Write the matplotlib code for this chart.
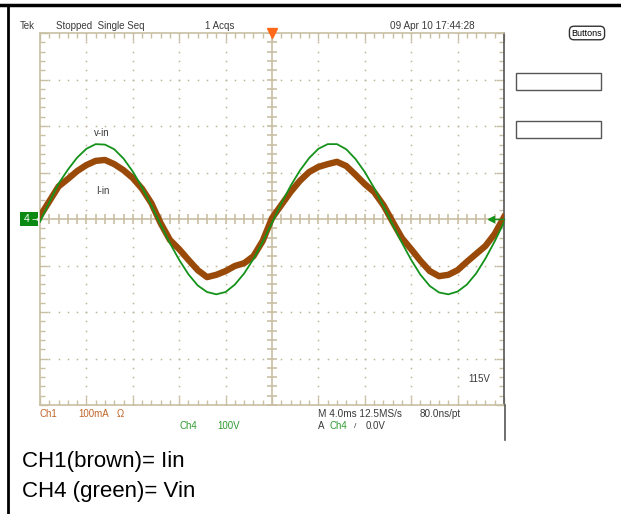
import matplotlib.pyplot as plt
from matplotlib.patches import Rectangle
from matplotlib.lines import Line2D

W, H = 621, 514

# time samples (ms), 4 ms/div over 10 divisions
t_ms = [0.0, 0.8, 1.6, 2.4, 3.2, 4.0, 4.8, 5.6, 6.4, 7.2,
        8.0, 8.8, 9.6, 10.4, 11.2, 12.0, 12.8, 13.6, 14.4, 15.2,
        16.0, 16.8, 17.6, 18.4, 19.2, 20.0, 20.8, 21.6, 22.4, 23.2,
        24.0, 24.8, 25.6, 26.4, 27.2, 28.0, 28.8, 29.6, 30.4, 31.2,
        32.0, 32.8, 33.6, 34.4, 35.2, 36.0, 36.8, 37.6, 38.4, 39.2, 40.0]

# CH4 input voltage (V), 100 V/div
v_in = [-6, 36, 76, 106, 132, 151, 161, 160, 150, 130,
        102, 68, 29, -12, -52, -88, -119, -143, -157, -162,
        -157, -141, -117, -86, -49, -8, 33, 71, 104, 131,
        151, 161, 161, 150, 129, 101, 67, 28, -12, -51,
        -88, -120, -144, -158, -162, -156, -141, -117, -85, -48, -7]

# CH1 input current (mA), 100 mA/div
i_in = [6, 38, 70, 86, 103, 116, 125, 127, 118, 105,
        88, 65, 34, -9, -45, -65, -88, -110, -125, -120,
        -112, -101, -95, -80, -47, 2, 30, 58, 82, 101,
        112, 118, 123, 114, 95, 75, 58, 30, -6, -41,
        -65, -90, -112, -123, -120, -110, -92, -75, -58, -32, 4]

v_per_div = 100
ma_per_div = 100

tan = '#c9bfa3'
dotc = '#bdb49c'
brown = '#9a4a08'
green = '#14921a'
txt = '#3a3a3a'
font = 'Liberation Sans'


def fx(px):
    return px / W


def fy(py):
    return 1 - py / H


fig = plt.figure(figsize=(W / 100, H / 100), dpi=100)
fig.patch.set_facecolor('white')

# outer page frame
fig.add_artist(Line2D([0, 1], [fy(5), fy(5)], color='black', lw=2.5))
fig.add_artist(Line2D([fx(7.5), fx(7.5)], [0, fy(5)], color='black', lw=2))
fig.add_artist(Line2D([fx(504.5), fx(504.5)], [fy(405), fy(440)], color='#555555', lw=1.2))

ax = fig.add_axes([fx(40), fy(405), (504 - 40) / W, (405 - 33) / H])
ax.set_xlim(0, 40)
ax.set_ylim(-4, 4)

major_x = [4 * k for k in range(11)]
minor_x = [0.8 * k for k in range(51)]
major_y = [k - 4 for k in range(9)]
minor_y = [0.2 * k - 4 for k in range(41)]

ax.set_xticks(major_x)
ax.set_xticks(minor_x, minor=True)
ax.set_yticks(major_y)
ax.set_yticks(minor_y, minor=True)
ax.tick_params(which='both', direction='in', top=True, right=True,
               labelbottom=False, labelleft=False, color=tan, width=1)
ax.tick_params(which='major', length=6)
ax.tick_params(which='minor', length=3.5)
for s in ax.spines.values():
    s.set_color(tan)
    s.set_linewidth(1.2)
ax.spines['right'].set_color('#555555')

# dotted graticule
for xv in major_x[1:-1]:
    if xv != 20:
        ax.plot([xv] * len(minor_y), minor_y, ls='none', marker='s', ms=1.1,
                mew=0, color=dotc, zorder=1)
for yv in major_y[1:-1]:
    if yv != 0:
        ax.plot(minor_x, [yv] * len(minor_x), ls='none', marker='s', ms=1.1,
                mew=0, color=dotc, zorder=1)

# centre cross with tick marks
ax.axhline(0, color=tan, lw=1.2, zorder=1)
ax.axvline(20, color=tan, lw=1.2, zorder=1)
ax.plot(minor_x, [0] * len(minor_x), ls='none', marker='|', ms=7, mew=1.2, color=tan, zorder=1)
ax.plot([20] * len(minor_y), minor_y, ls='none', marker='_', ms=7, mew=1.2, color=tan, zorder=1)

# waveforms
ax.plot(t_ms, [i / ma_per_div for i in i_in], color=brown, lw=4.6,
        solid_joinstyle='round', zorder=3)
ax.plot(t_ms, [v / v_per_div for v in v_in], color=green, lw=1.3, zorder=4)

ax.text(5.3, 1.85, 'v-in', fontsize=7, family=font, color=txt, ha='center', va='center')
ax.text(5.4, 0.6, 'I-in', fontsize=7, family=font, color=txt, ha='center', va='center')

# trigger markers
ax.plot([20], [4], marker='v', color='#ff6a1a', ms=7, clip_on=False, zorder=5)
ax.plot([38.9, 40], [0, 0], color=green, lw=1, clip_on=False, zorder=5)
ax.plot([38.9], [0], marker='<', color=green, ms=5, clip_on=False, zorder=5)

# channel 4 ground marker
fig.add_artist(Rectangle((fx(20), fy(226)), (38 - 20) / W, 14 / H,
                         facecolor='#0a8a12', edgecolor='none'))
fig.text(fx(27), fy(219), '4', fontsize=7.5, family=font, color='white',
         ha='center', va='center')
fig.text(fx(35), fy(219), '\u2192', fontsize=6, family='DejaVu Sans', color='white',
         ha='center', va='center')

# header readout
fig.text(fx(20), fy(26), 'Tek', fontsize=7, family=font, color=txt, va='center')
fig.text(fx(56), fy(26), 'Stopped  Single Seq', fontsize=7, family=font, color=txt, va='center')
fig.text(fx(205), fy(26), '1 Acqs', fontsize=7, family=font, color=txt, va='center')
fig.text(fx(390), fy(26), '09 Apr 10 17:44:28', fontsize=7.2, family=font, color=txt, va='center')

# right side soft keys
fig.text(fx(587), fy(33), 'Buttons', fontsize=6.5, family=font, color='black',
         ha='center', va='center',
         bbox=dict(boxstyle='round,pad=0.25,rounding_size=0.5', fc='white', ec='#333333', lw=1))
fig.add_artist(Rectangle((fx(516), fy(90)), 85 / W, 17 / H, facecolor='white',
                         edgecolor='#555555', lw=1))
fig.add_artist(Rectangle((fx(516), fy(138)), 85 / W, 17 / H, facecolor='white',
                         edgecolor='#555555', lw=1))

# bottom readout
fig.text(fx(479), fy(379), '115V', fontsize=7, family=font, color=txt, ha='center', va='center')
fig.text(fx(40), fy(414), 'Ch1', fontsize=7, family=font, color='#c0652a', va='center')
fig.text(fx(78), fy(414), '100mA', fontsize=7, family=font, color='#c0652a', va='center')
fig.text(fx(117), fy(414), '\u03a9', fontsize=7, family=font, color='#c0652a', va='center')
fig.text(fx(179), fy(426), 'Ch4', fontsize=7, family=font, color='#2e9a2e', va='center')
fig.text(fx(217), fy(426), '100V', fontsize=7, family=font, color='#2e9a2e', va='center')
fig.text(fx(318), fy(414), 'M 4.0ms 12.5MS/s', fontsize=7.2, family=font, color=txt, va='center')
fig.text(fx(420), fy(414), '80.0ns/pt', fontsize=7.2, family=font, color=txt, va='center')
fig.text(fx(318), fy(426), 'A', fontsize=7, family=font, color=txt, va='center')
fig.text(fx(330), fy(426), 'Ch4', fontsize=7, family=font, color='#2e9a2e', va='center')
fig.text(fx(354), fy(426), '/', fontsize=6, family=font, color=txt, va='center')
fig.text(fx(366), fy(426), '0.0V', fontsize=7, family=font, color=txt, va='center')

# legend notes
fig.text(fx(22), fy(462), 'CH1(brown)= Iin', fontsize=16, family=font, color='black', va='center')
fig.text(fx(22), fy(492), 'CH4 (green)= Vin', fontsize=16, family=font, color='black', va='center')

fig.savefig('out.png', dpi=100)
